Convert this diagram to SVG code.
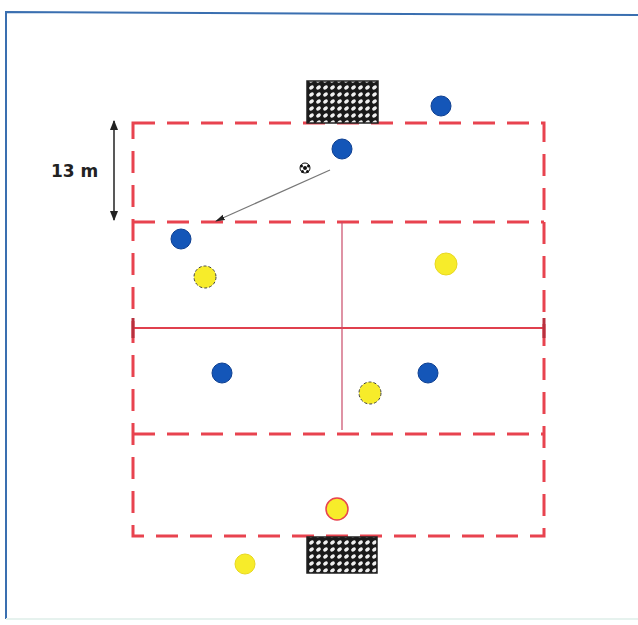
<svg xmlns="http://www.w3.org/2000/svg" width="638" height="625" viewBox="0 0 638 625">
<style>
.dash{fill:none;stroke:#e8434f;stroke-width:3;stroke-dasharray:22 12}
.solid{fill:none;stroke:#e0404e;stroke-width:2}
.blue{fill:#1456b8;stroke:#0d3f91;stroke-width:1}
.yellow{fill:#f7ec2a;stroke:#e8d820;stroke-width:1}
.ydash{fill:#f7ec2a;stroke:#444;stroke-width:1;stroke-dasharray:3 2}
.yred{fill:#f7ec2a;stroke:#e8434f;stroke-width:1.5}
.goal{fill:url(#net);stroke:#222;stroke-width:1.5}
.label{font-family:"DejaVu Sans",sans-serif;font-weight:bold;font-size:17px;fill:#222}
</style>
<defs>
<pattern id="net" width="7" height="7" patternUnits="userSpaceOnUse">
<rect width="7" height="7" fill="#1a1a1a"/>
<ellipse cx="3.5" cy="3.5" rx="2.6" ry="1.8" fill="#f0f0f0" transform="rotate(-35 3.5 3.5)"/>
</pattern>
<marker id="ah" viewBox="0 0 10 10" refX="9" refY="5" markerWidth="7" markerHeight="7" orient="auto-start-reverse">
<path d="M0,1 L10,5 L0,9 z" fill="#222"/>
</marker>
<marker id="ahg" viewBox="0 0 10 10" refX="9" refY="5" markerWidth="8" markerHeight="8" orient="auto">
<path d="M0,2 L10,5 L0,8 z" fill="#222"/>
</marker>
</defs>
<rect width="638" height="625" fill="#ffffff"/>
<g id="frame">
<path d="M6,619 L6,12 L638,15" fill="none" stroke="#3a6fb0" stroke-width="2"/>
<line x1="6" y1="619" x2="638" y2="619" stroke="#e6f2ee" stroke-width="2"/>
</g>
<g id="field">
<rect x="133" y="123" width="411" height="413" class="dash"/>
<line x1="133" y1="222" x2="544" y2="222" class="dash"/>
<line x1="133" y1="434" x2="544" y2="434" class="dash"/>
<line x1="133" y1="328" x2="544" y2="328" class="solid"/>
<line x1="133" y1="318" x2="133" y2="338" stroke="#b8303e" stroke-width="3"/>
<line x1="544" y1="318" x2="544" y2="338" stroke="#b8303e" stroke-width="3"/>
<line x1="342" y1="222" x2="342" y2="430" stroke="#c94a68" stroke-width="1.2"/>
</g>
<g id="goal-top"><rect x="307" y="81" width="71" height="42" class="goal"/></g>
<g id="goal-bottom"><rect x="307" y="537" width="70" height="36" class="goal"/></g>
<g id="dimension">
<line x1="114" y1="121" x2="114" y2="220" stroke="#222" stroke-width="1.5" marker-start="url(#ah)" marker-end="url(#ah)"/>
<text x="51" y="177" class="label">13 m</text>
</g>
<g id="connectors">
<line x1="330" y1="170" x2="216" y2="221" stroke="#777" stroke-width="1.2" marker-end="url(#ahg)"/>
</g>
<g id="ball">
<circle cx="305" cy="168" r="5" fill="#fff" stroke="#111" stroke-width="1"/>
<circle cx="305" cy="168" r="2" fill="#111"/>
<circle cx="301.5" cy="166" r="1.5" fill="#111"/>
<circle cx="308.5" cy="166" r="1.5" fill="#111"/>
<circle cx="302.5" cy="171.5" r="1.5" fill="#111"/>
<circle cx="307.5" cy="171.5" r="1.5" fill="#111"/>
</g>
<g id="blue-players">
<circle cx="441" cy="106" r="10" class="blue"/>
<circle cx="342" cy="149" r="10" class="blue"/>
<circle cx="181" cy="239" r="10" class="blue"/>
<circle cx="222" cy="373" r="10" class="blue"/>
<circle cx="428" cy="373" r="10" class="blue"/>
</g>
<g id="yellow-players">
<circle cx="205" cy="277" r="11" class="ydash"/>
<circle cx="446" cy="264" r="11" class="yellow"/>
<circle cx="370" cy="393" r="11" class="ydash"/>
<circle cx="337" cy="509" r="11" class="yred"/>
<circle cx="245" cy="564" r="10" class="yellow"/>
</g>
</svg>
